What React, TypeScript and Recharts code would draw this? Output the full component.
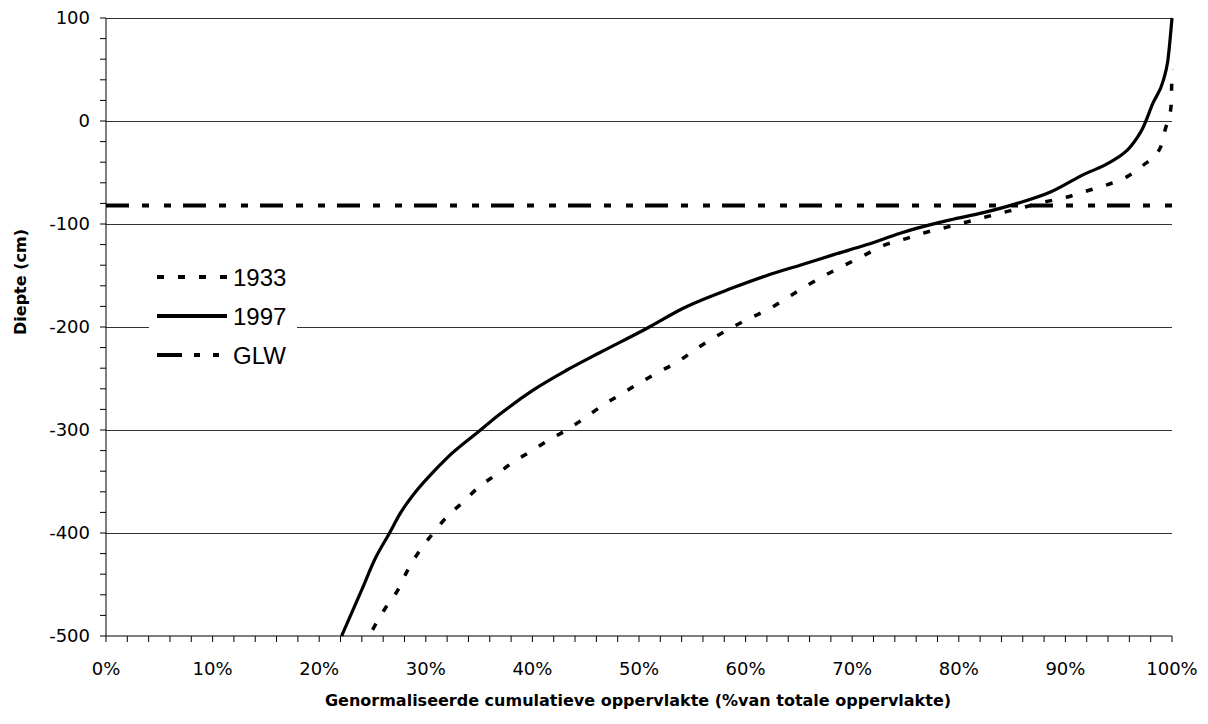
import React from "react";
import {
  LineChart,
  Line,
  XAxis,
  YAxis,
  ReferenceLine,
  Legend,
  Label,
} from "recharts";

// cumulative area (%) vs. depth (cm)
const pct1933 = [
  25.0, 26.2, 27.4, 28.3, 29.5, 30.7, 32.0, 33.5, 34.9, 36.5, 38.1, 39.8, 41.5, 43.2, 45.1, 46.6,
  48.2, 50.1, 51.8, 53.6, 55.4, 57.1, 58.8, 60.7, 62.3, 64.0, 65.9, 67.6, 69.3, 71.2, 72.9, 74.8,
  76.6, 78.9, 80.4, 82.6, 86.4, 87.9, 90.1, 92.3, 93.9, 95.8, 97.3, 98.9, 99.4, 99.9, 100,
];
const depth1933 = [
  -494, -473, -455, -436, -416, -400, -384, -370, -356, -344, -332, -321, -310, -300, -287, -276,
  -266, -254, -244, -234, -221, -210, -200, -190, -182, -171, -159, -149, -140, -130, -121, -115,
  -109, -103, -99, -93, -83, -79, -74, -67, -62, -54, -43, -26, -7, 13, 50,
];

const pct1997 = [
  22.1, 24.0, 25.2, 26.6, 27.6, 29.2, 30.4, 32.0, 34.9, 36.9, 40.1, 43.2, 46.3, 50.8, 54.1, 58.8,
  62.0, 65.1, 68.2, 71.4, 74.5, 76.1, 79.2, 82.3, 85.5, 88.6, 91.7, 94.2, 96.1, 97.3, 98.2, 99.2,
  99.6, 100,
];
const depth1997 = [
  -500, -455, -426, -400, -381, -358, -344, -327, -302, -285, -261, -242, -225, -201, -182, -162,
  -150, -140, -130, -120, -109, -104, -96, -89, -80, -69, -52, -40, -25, -6, 17, 40,
  58, 100,
];

// mean lowest groundwater level
const pctGlw = [0, 100];
const depthGlw = [-82, -82];

const gridValues = [100, 0, -100, -200, -300, -400];
const yMajor = [-500, -400, -300, -200, -100, 0, 100];
const xMajor = [0, 10, 20, 30, 40, 50, 60, 70, 80, 90, 100];

// minor tick marks between the labelled ones
const yTicks: number[] = [];
for (let v = -500; v <= 100; v += 20) yTicks.push(v);
const xTicks: number[] = [];
for (let v = 0; v <= 100; v += 2) xTicks.push(v);

const toRows = (xs: number[], ys: number[]) => xs.map((pct, i) => ({ pct, depth: ys[i] }));

const data1933 = toRows(pct1933, depth1933);
const data1997 = toRows(pct1997, depth1997);
const dataGlw = toRows(pctGlw, depthGlw);

const tickFont = { fill: "#000", fontSize: 18, fontFamily: "DejaVu Sans" };

const legendItems = [
  { name: "1933", dash: "7 14", width: 4 },
  { name: "1997", dash: undefined, width: 4 },
  { name: "GLW", dash: "25 12 6 13 6 12", width: 4 },
];

function LegendBox() {
  return (
    <svg width={148} height={125} style={{ display: "block", background: "#fff" }}>
      {legendItems.map((it, i) => {
        const y = 22 + i * 39;
        return (
          <g key={it.name}>
            <line
              x1={8}
              x2={78}
              y1={y}
              y2={y}
              stroke="#000"
              strokeWidth={it.width}
              strokeDasharray={it.dash}
            />
            <text
              x={84}
              y={y}
              dominantBaseline="central"
              fontSize={24}
              fontFamily="Liberation Sans"
              fill="#000"
            >
              {it.name}
            </text>
          </g>
        );
      })}
    </svg>
  );
}

export default function App() {
  return (
    <div
      style={{
        position: "absolute",
        left: 0,
        top: 0,
        width: 1208,
        height: 724,
        background: "#fff",
      }}
    >
      <LineChart width={1208} height={724} margin={{ top: 18, right: 36, left: 0, bottom: 0 }}>
        <XAxis
          type="number"
          dataKey="pct"
          domain={[0, 100]}
          ticks={xTicks}
          interval={0}
          tickSize={6}
          tickMargin={20}
          tick={tickFont}
          tickFormatter={(v: number) => (xMajor.includes(v) ? `${v}%` : "")}
          axisLine={{ stroke: "#000", strokeWidth: 1 }}
          tickLine={{ stroke: "#000" }}
          height={88}
        >
          <Label
            content={() => (
              <text
                x={638}
                y={700}
                textAnchor="middle"
                dominantBaseline="central"
                fontSize={16}
                fontWeight="bold"
                fontFamily="DejaVu Sans"
                fill="#000"
              >
                Genormaliseerde cumulatieve oppervlakte (%van totale oppervlakte)
              </text>
            )}
          />
        </XAxis>
        <YAxis
          type="number"
          dataKey="depth"
          domain={[-500, 100]}
          ticks={yTicks}
          interval={0}
          width={106}
          tickSize={6}
          tickMargin={10}
          tick={tickFont}
          tickFormatter={(v: number) => (yMajor.includes(v) ? `${v}` : "")}
          axisLine={{ stroke: "#000", strokeWidth: 1 }}
          tickLine={{ stroke: "#000" }}
        >
          <Label
            content={() => (
              <text
                x={20}
                y={282}
                transform="rotate(-90 20 282)"
                textAnchor="middle"
                dominantBaseline="central"
                fontSize={16}
                fontWeight="bold"
                fontFamily="DejaVu Sans"
                fill="#000"
              >
                Diepte (cm)
              </text>
            )}
          />
        </YAxis>
        {gridValues.map((v) => (
          <ReferenceLine
            key={v}
            y={v}
            stroke="#333"
            strokeWidth={1}
            shapeRendering="crispEdges"
          />
        ))}
        <Line
          data={dataGlw}
          dataKey="depth"
          name="GLW"
          stroke="#000"
          strokeWidth={4}
          strokeDasharray="23 13 7 15 7 12"
          dot={false}
          isAnimationActive={false}
        />
        <Line
          type="monotone"
          data={data1933}
          dataKey="depth"
          name="1933"
          stroke="#000"
          strokeWidth={3.5}
          strokeDasharray="7 14"
          dot={false}
          isAnimationActive={false}
        />
        <Line
          type="monotone"
          data={data1997}
          dataKey="depth"
          name="1997"
          stroke="#000"
          strokeWidth={3.2}
          dot={false}
          isAnimationActive={false}
        />
        <Legend
          layout="horizontal"
          verticalAlign="middle"
          align="center"
          content={() => <LegendBox />}
          wrapperStyle={{ left: 149, top: 255, width: 148, height: 125 }}
        />
      </LineChart>
    </div>
  );
}
